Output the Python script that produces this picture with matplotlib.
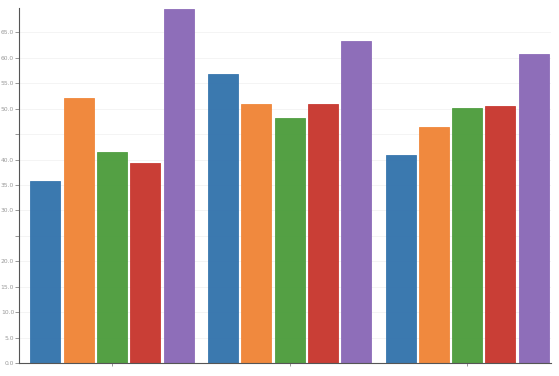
import numpy as np
import matplotlib
matplotlib.use('Agg')
import matplotlib.pyplot as plt

groups = ["A", "B", "C"]
colors = ["#3776ae", "#f0873a", "#509e40", "#c83a32", "#8c6bb8"]
series = [
    [35.8, 56.8, 40.9],
    [52.1, 50.9, 46.4],
    [41.5, 48.1, 50.1],
    [39.3, 50.9, 50.5],
    [69.7, 63.3, 60.7],
]
yticks = [0, 5, 10, 15, 20, 25, 30, 35, 40, 45, 50, 55, 60, 65]
ytick_labels = ["0.0", "5.0", "10.0", "15.0", "20.0", "", "30.0", "35.0",
                "40.0", "", "50.0", "55.0", "60.0", "65.0"]

fig = plt.figure(figsize=(5.59, 3.76), dpi=100)
ax = fig.add_axes([0.034, 0.0346, 0.952, 0.944])

x = np.arange(len(groups))
step = 0.1875
width = 0.169
for i, vals in enumerate(series):
    ax.bar(x + (i - 2) * step, vals, width, color=colors[i],
           edgecolor=colors[i], linewidth=0.6, alpha=0.98, zorder=2)

ax.set_xlim(-0.524, 2.473)
ax.set_ylim(0, 69.8)
ax.set_yticks(yticks)
ax.set_yticklabels(ytick_labels)
ax.set_xticks(x)
ax.set_xticklabels([""] * len(groups))
ax.tick_params(axis='y', labelsize=4.3, labelcolor='#999999', colors='#888888',
               length=3, width=0.6, pad=0.5)
ax.tick_params(axis='x', length=2, width=0.6, colors='#888888')
ax.grid(axis='y', color='#f2f2f2', linewidth=0.6, zorder=0)
for s in ['top', 'right']:
    ax.spines[s].set_visible(False)
for s in ['left', 'bottom']:
    ax.spines[s].set_color('#555555')
    ax.spines[s].set_linewidth(0.8)

fig.savefig("out.png", dpi=100)
